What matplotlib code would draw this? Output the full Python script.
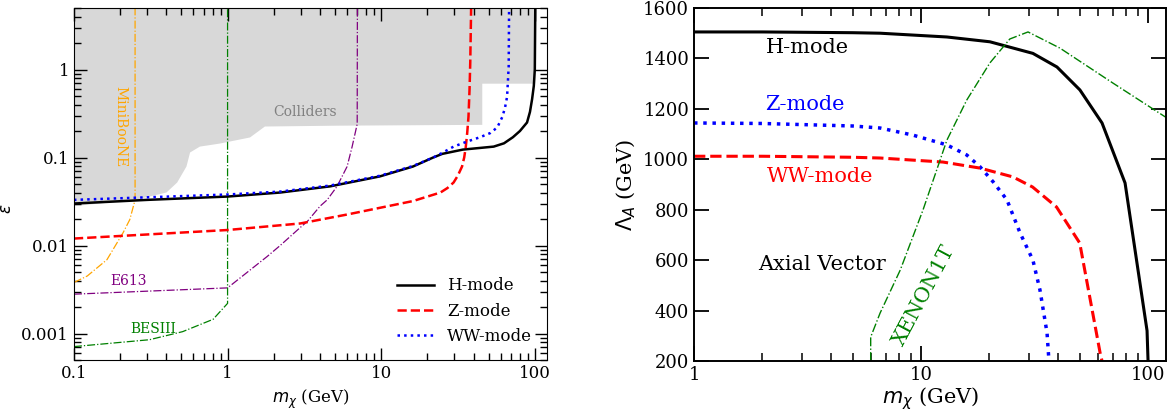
import matplotlib
matplotlib.use('Agg')
import matplotlib.pyplot as plt
from matplotlib.ticker import FixedLocator, FixedFormatter

plt.rcParams['font.family'] = 'serif'
plt.rcParams['mathtext.fontset'] = 'dejavusans'

# ---- left panel: epsilon vs m_chi ----
collider_m = [0.1, 0.25, 0.40, 0.47, 0.54, 0.57, 0.66, 0.89, 1.40, 1.75, 5.2, 45.5, 45.5, 100.5, 100.5, 0.1]
collider_eps = [0.028, 0.033, 0.040, 0.052, 0.079, 0.114, 0.133, 0.144, 0.169, 0.225, 0.23, 0.235, 0.69, 0.69, 5.0, 5.0]

h_m = [0.1, 0.3, 1, 2.2, 4.65, 9.8, 16.1, 21.8, 25, 34, 54, 63, 72, 80, 89, 93, 96, 98.5, 100, 100.7]
h_eps = [0.030, 0.033, 0.036, 0.040, 0.047, 0.061, 0.079, 0.100, 0.110, 0.123, 0.133, 0.145, 0.17, 0.20, 0.25, 0.33, 0.46, 0.65, 1.0, 5.0]

z_m = [0.1, 1, 2.97, 6.0, 16.1, 24.3, 27, 29.6, 31.5, 33.6, 34.7, 35.5, 36.3, 37, 37.6, 38, 38.5]
z_eps = [0.012, 0.015, 0.0178, 0.0225, 0.032, 0.040, 0.045, 0.052, 0.062, 0.079, 0.10, 0.13, 0.19, 0.29, 0.6, 1.2, 5.0]

ww_m = [0.1, 1, 2.2, 4.65, 9.8, 16.1, 21.8, 25, 29.6, 36.3, 44, 51.4, 57, 61.5, 64, 66, 67.6, 68]
ww_eps = [0.033, 0.038, 0.041, 0.048, 0.062, 0.080, 0.100, 0.113, 0.133, 0.152, 0.17, 0.19, 0.22, 0.29, 0.37, 0.49, 1.08, 5.0]

mini_m = [0.1, 0.122, 0.164, 0.209, 0.231, 0.25, 0.25]
mini_eps = [0.0038, 0.0045, 0.0069, 0.014, 0.0197, 0.033, 5.0]

e613_m = [0.1, 1, 1.81, 2.2, 2.97, 3.3, 4.0, 4.45, 5.16, 6.0, 6.47, 6.98, 7.0]
e613_eps = [0.0028, 0.0033, 0.0075, 0.010, 0.016, 0.0187, 0.028, 0.033, 0.047, 0.079, 0.133, 0.24, 5.0]

bes_m = [0.1, 0.31, 0.51, 0.805, 1.0, 1.0]
bes_eps = [0.00071, 0.00085, 0.00105, 0.00145, 0.0022, 5.0]

# ---- right panel: Lambda_A vs m_chi ----
hr_m = [1, 2, 5, 6.6, 13, 20.1, 31.1, 39.7, 50.1, 62.7, 79.2, 99, 100]
hr_lam = [1505, 1505, 1502, 1500, 1485, 1466, 1420, 1366, 1275, 1144, 906, 320, 200]

zr_m = [1, 2, 5, 6.6, 9.2, 13, 15.9, 18.2, 20.8, 23.9, 27.3, 31.1, 33.4, 35.9, 36.6]
zr_lam = [1144, 1142, 1132, 1124, 1096, 1057, 1017, 970, 910, 839, 708, 600, 482, 311, 200]

wr_m = [1, 2, 5, 6.6, 12.5, 18.2, 25.4, 31, 39.5, 50, 61.5, 62.7]
wr_lam = [1012, 1012, 1008, 1005, 989, 965, 930, 890, 811, 668, 232, 200]

xe_m = [6.0, 6.0, 6.6, 8.1, 10.2, 13, 15.9, 20.1, 24.6, 29.6, 40.9, 70.1, 121]
xe_lam = [200, 295, 390, 561, 799, 1076, 1235, 1382, 1477, 1505, 1441, 1302, 1164]

fig = plt.figure(figsize=(11.7, 4.12), dpi=100)
ax1 = fig.add_axes([0.0632, 0.1262, 0.4043, 0.8544])
ax2 = fig.add_axes([0.5932, 0.1238, 0.4034, 0.8568])

# left
ax1.fill(collider_m, collider_eps, color='#d8d8d8', lw=0, zorder=0)
ax1.plot(mini_m, mini_eps, color='orange', ls='-.', lw=0.9)
ax1.plot(e613_m, e613_eps, color='purple', ls='-.', lw=0.9)
ax1.plot(bes_m, bes_eps, color='green', ls='-.', lw=0.9)
ax1.plot(h_m, h_eps, color='black', ls='-', lw=1.8, label='H-mode')
ax1.plot(z_m, z_eps, color='red', ls='--', lw=1.8, label='Z-mode')
ax1.plot(ww_m, ww_eps, color='blue', ls=':', lw=1.8, label='WW-mode')

ax1.text(0.2, 0.225, 'MiniBooNE', color='orange', rotation=-90, fontsize=10, ha='center', va='center')
ax1.text(3.2, 0.33, 'Colliders', color='gray', fontsize=10, ha='center', va='center')
ax1.text(0.225, 0.0039, 'E613', color='purple', fontsize=10, ha='center', va='center')
ax1.text(0.327, 0.00114, 'BESIII', color='green', fontsize=10, ha='center', va='center')

ax1.set_xscale('log')
ax1.set_yscale('log')
ax1.set_xlim(0.1, 120)
ax1.set_ylim(5e-4, 5)
ax1.xaxis.set_major_locator(FixedLocator([0.1, 1, 10, 100]))
ax1.xaxis.set_major_formatter(FixedFormatter(['0.1', '1', '10', '100']))
ax1.yaxis.set_major_locator(FixedLocator([0.001, 0.01, 0.1, 1]))
ax1.yaxis.set_major_formatter(FixedFormatter(['0.001', '0.01', '0.1', '1']))
ax1.tick_params(which='both', direction='in', top=True, right=True, labelsize=12)
ax1.tick_params(which='major', length=9, width=1)
ax1.tick_params(which='minor', length=5, width=1)
ax1.set_xlabel(r'$m_\chi$ (GeV)', fontsize=12)
ax1.set_ylabel(r'$\varepsilon$', fontsize=12)
ax1.yaxis.set_label_coords(-0.125, 0.43)
ax1.legend(loc='lower right', frameon=False, fontsize=12, handlelength=2.2)

# right
ax2.plot(hr_m, hr_lam, color='black', ls='-', lw=2.2)
ax2.plot(zr_m, zr_lam, color='blue', ls=':', lw=2.5)
ax2.plot(wr_m, wr_lam, color='red', ls='--', lw=2.2)
ax2.plot(xe_m, xe_lam, color='green', ls='-.', lw=1.0)

ax2.text(3.15, 1445, 'H-mode', color='black', fontsize=15, ha='center', va='center')
ax2.text(3.08, 1219, 'Z-mode', color='blue', fontsize=15, ha='center', va='center')
ax2.text(3.59, 930, 'WW-mode', color='red', fontsize=15, ha='center', va='center')
ax2.text(3.67, 581, 'Axial Vector', color='black', fontsize=15, ha='center', va='center')
ax2.text(10.3, 460, 'XENON1T', color='green', fontsize=15, rotation=62, ha='center', va='center')

ax2.set_xscale('log')
ax2.set_xlim(1, 120)
ax2.set_ylim(200, 1600)
ax2.xaxis.set_major_locator(FixedLocator([1, 10, 100]))
ax2.xaxis.set_major_formatter(FixedFormatter(['1', '10', '100']))
ax2.set_yticks([200, 400, 600, 800, 1000, 1200, 1400, 1600])
ax2.tick_params(which='both', direction='in', top=True, right=True, labelsize=13)
ax2.tick_params(which='major', length=11, width=1.3)
ax2.tick_params(which='minor', length=6, width=1.1)
for s in ax2.spines.values():
    s.set_linewidth(1.4)
ax2.set_xlabel(r'$m_\chi$ (GeV)', fontsize=15, labelpad=1)
ax2.set_ylabel(r'$\Lambda_A$ (GeV)', fontsize=15)

fig.savefig('out.png', dpi=100)
